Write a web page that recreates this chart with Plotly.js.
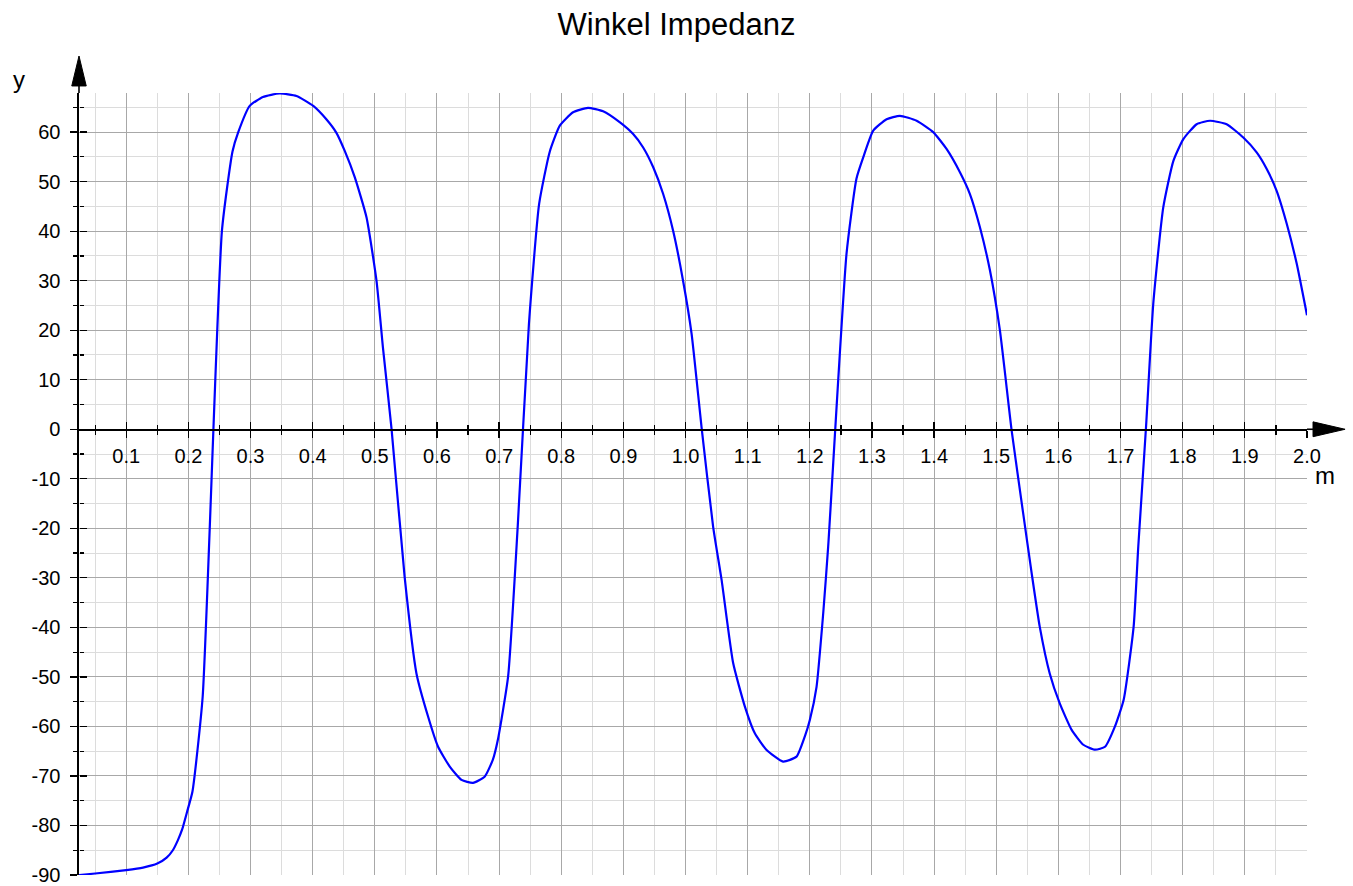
<!DOCTYPE html>
<html>
<head>
<meta charset="utf-8">
<script src="https://cdn.plot.ly/plotly-3.0.1.min.js"></script>
<style>html,body{margin:0;padding:0;background:#fff;}#chart{width:1353px;height:886px;}</style>
</head>
<body>
<div id="chart"></div>
<script>
// Length m (x) and impedance angle (y)
const mValues = [0.024, 0.05, 0.1, 0.127, 0.15, 0.165, 0.175, 0.183, 0.19, 0.198, 0.2065, 0.223,
  0.254, 0.271, 0.28, 0.2987, 0.32, 0.347, 0.374, 0.401, 0.422, 0.438, 0.4516, 0.4677, 0.4866, 0.5027, 0.513, 0.527,
  0.548, 0.567, 0.5857, 0.6018, 0.6206, 0.6395, 0.658, 0.677, 0.69, 0.698, 0.7145, 0.73,
  0.748, 0.7644, 0.7816, 0.7977, 0.819, 0.843, 0.8674, 0.894, 0.9157, 0.9318, 0.948, 0.964, 0.98, 0.996, 1.0097, 1.0257,
  1.0444, 1.058, 1.0766, 1.0955, 1.1115, 1.13, 1.157, 1.1786, 1.192, 1.2, 1.2108, 1.2215, 1.2295,
  1.259, 1.275, 1.2859, 1.302, 1.3235, 1.345, 1.3718, 1.3985, 1.42, 1.4415, 1.4576, 1.4737, 1.4898, 1.5058, 1.5247,
  1.5433, 1.557, 1.57, 1.586, 1.602, 1.6213, 1.64, 1.659, 1.675, 1.691, 1.705, 1.721, 1.7285, 1.741,
  1.7526, 1.7687, 1.785, 1.801, 1.8225, 1.844, 1.8707, 1.8975, 1.919, 1.935, 1.951, 1.9674, 1.9835, 2.0];
const angleValues = [-90.0, -89.7, -89.0, -88.5, -87.7, -86.5, -85.0, -83.0, -80.8, -77.2, -73.2, -54.0,
  40.1, 56.1, 59.9, 65.3, 67.1, 67.8, 67.3, 65.3, 62.6, 59.9, 56.2, 50.9, 42.8, 30.0, 16.6, 0.0,
  -29.8, -49.3, -58.0, -64.1, -68.1, -70.8, -71.4, -70.1, -66.7, -62.7, -49.9, -19.5,
  21.3, 45.5, 56.1, 61.3, 64.0, 64.9, 64.2, 62.0, 59.6, 56.9, 52.9, 47.5, 40.1, 30.0, 19.3, 0.5,
  -19.7, -30.4, -47.2, -56.0, -61.4, -64.7, -67.1, -66.1, -62.0, -58.7, -52.0, -37.2, -23.7,
  35.4, 50.6, 54.9, 60.3, 62.6, 63.3, 62.3, 60.0, 56.6, 51.9, 47.5, 40.8, 32.1, 20.0, -0.2,
  -17.0, -29.1, -39.9, -49.3, -55.3, -60.7, -63.7, -64.7, -64.1, -60.0, -54.6, -39.9, -23.7, 0.5,
  25.3, 44.8, 54.2, 58.6, 61.6, 62.3, 61.6, 58.9, 55.9, 52.6, 48.2, 41.5, 33.4, 23.0];

const xRange = [0.024, 2.0];
const yRange = [-90, 67.9];
const yTickVals = [-90, -80, -70, -60, -50, -40, -30, -20, -10, 0, 10, 20, 30, 40, 50, 60];
const yTickLabels = ['-90', '-80', '-70', '-60', '-50', '-40', '-30', '-20', '-10', '0', '10', '20', '30', '40', '50', '60'];
const chartTitle = 'Winkel Impedanz';
const xLabel = 'm';
const yLabel = 'y';

const fontFam = 'Liberation Sans, Arial, sans-serif';
const zeroPos = (0 - yRange[0]) / (yRange[1] - yRange[0]);

const trace = {
  x: mValues, y: angleValues, type: 'scatter', mode: 'lines',
  line: {color: '#0000ff', width: 2.2, shape: 'spline', smoothing: 0.5}, showlegend: false, hoverinfo: 'x+y'
};
const ghost = {
  x: mValues, y: angleValues, type: 'scatter', mode: 'lines', xaxis: 'x2', yaxis: 'y2',
  line: {color: '#0000ff', width: 2.2}, opacity: 0, showlegend: false, hoverinfo: 'skip'
};

const tickFont = {family: fontFam, size: 20, color: '#000'};
const majorGrid = '#a8a8a8';
const minorGrid = '#dcdcdc';

const layout = {
  width: 1353, height: 886,
  margin: {l: 79, r: 46, t: 93, b: 11},
  paper_bgcolor: '#fff', plot_bgcolor: '#fff',
  title: {text: chartTitle, font: {family: fontFam, size: 31, color: '#000'},
          x: 0.5, xref: 'container', y: 1 - 24 / 886, yref: 'container', yanchor: 'middle'},
  xaxis: {
    range: xRange, anchor: 'free', position: zeroPos,
    tick0: 0, dtick: 0.1, tickformat: '.1f',
    ticks: 'outside', ticklen: 7, tickwidth: 1.3, tickcolor: '#000',
    ticklabelstandoff: 1,
    showline: true, linecolor: '#000', linewidth: 1.6,
    showgrid: true, gridcolor: majorGrid, gridwidth: 1,
    minor: {tick0: 0, dtick: 0.05, ticks: 'outside', ticklen: 4, tickwidth: 1.2, tickcolor: '#000',
            showgrid: true, gridcolor: minorGrid, gridwidth: 1},
    zeroline: false, tickfont: tickFont
  },
  xaxis2: {
    overlaying: 'x', matches: 'x', anchor: 'free', position: zeroPos,
    tick0: 0, dtick: 0.1, ticks: 'inside', ticklen: 7, tickwidth: 1.3, tickcolor: '#000',
    showticklabels: false, showline: false, showgrid: false, zeroline: false,
    minor: {tick0: 0, dtick: 0.05, ticks: 'inside', ticklen: 4, tickwidth: 1.2, tickcolor: '#000', showgrid: false}
  },
  yaxis: {
    range: yRange, anchor: 'x', side: 'left',
    tickmode: 'array', tickvals: yTickVals, ticktext: yTickLabels,
    ticks: 'outside', ticklen: 7, tickwidth: 1.3, tickcolor: '#000',
    ticklabelstandoff: 6,
    showline: true, linecolor: '#000', linewidth: 1.6,
    showgrid: true, gridcolor: majorGrid, gridwidth: 1,
    minor: {tick0: 0, dtick: 5, ticks: 'outside', ticklen: 4, tickwidth: 1.2, tickcolor: '#000',
            showgrid: true, gridcolor: minorGrid, gridwidth: 1},
    zeroline: false, tickfont: tickFont
  },
  yaxis2: {
    range: yRange, overlaying: 'y', anchor: 'free', position: 0, side: 'left',
    tick0: 0, dtick: 10, ticks: 'inside', ticklen: 7, tickwidth: 1.3, tickcolor: '#000',
    showticklabels: false, showline: false, showgrid: false, zeroline: false,
    minor: {tick0: 0, dtick: 5, ticks: 'inside', ticklen: 4, tickwidth: 1.2, tickcolor: '#000', showgrid: false}
  },
  shapes: [
    {type: 'line', xref: 'paper', yref: 'y', x0: 1, x1: 1.006, y0: 0, y1: 0, line: {color: '#000', width: 1.6}},
    {type: 'path', xref: 'paper', yref: 'y', path: 'M 1.0049 -1.5 L 1.031 0 L 1.0049 1.5 Z',
     fillcolor: '#000', line: {color: '#000', width: 1}},
    {type: 'line', xref: 'paper', yref: 'paper', x0: 0, x1: 0, y0: 1, y1: 1.01, line: {color: '#000', width: 1.6}},
    {type: 'path', xref: 'paper', yref: 'paper', path: 'M -0.0059 1.009 L 0 1.0473 L 0.0059 1.009 Z',
     fillcolor: '#000', line: {color: '#000', width: 1}}
  ],
  annotations: [
    {text: yLabel, xref: 'paper', yref: 'paper', x: -0.0489, y: 1.017, showarrow: false,
     xanchor: 'center', yanchor: 'middle', font: {family: fontFam, size: 24, color: '#000'}},
    {text: xLabel, xref: 'paper', yref: 'paper', x: 1.0149, y: 0.5105, showarrow: false,
     xanchor: 'center', yanchor: 'middle', font: {family: fontFam, size: 24, color: '#000'}}
  ]
};

Plotly.newPlot('chart', [trace, ghost], layout, {displayModeBar: false, staticPlot: true});
</script>
</body>
</html>
